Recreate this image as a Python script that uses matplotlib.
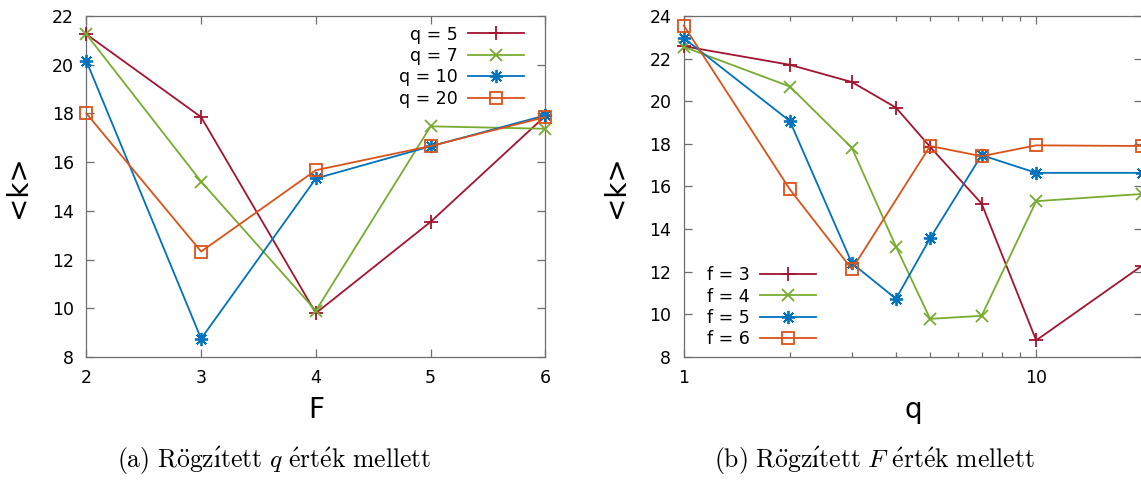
import numpy as np
import matplotlib
matplotlib.use("Agg")
import matplotlib.pyplot as plt
from matplotlib.ticker import FixedLocator, NullFormatter

plt.rcParams['font.family'] = ['DejaVu Sans']
plt.rcParams['mathtext.fontset'] = 'cm'

# ---- data: left panel, <k> vs F at fixed q ----
F_vals = [2, 3, 4, 5, 6]
k_q5 = [21.25, 17.85, 9.8, 13.55, 17.9]
k_q7 = [21.25, 15.2, 9.9, 17.47, 17.37]
k_q10 = [20.15, 8.75, 15.33, 16.65, 17.92]
k_q20 = [18.0, 12.33, 15.67, 16.66, 17.85]
left_labels = ["q = 5", "q = 7", "q = 10", "q = 20"]

# ---- data: right panel, <k> vs q at fixed F ----
q_vals = [1, 2, 3, 4, 5, 7, 10, 20]
k_f3 = [22.58, 21.71, 20.9, 19.7, 17.86, 15.2, 8.78, 12.29]
k_f4 = [22.55, 20.69, 17.81, 13.18, 9.79, 9.93, 15.31, 15.65]
k_f5 = [22.96, 19.07, 12.4, 10.73, 13.57, 17.47, 16.64, 16.64]
q_f6 = [1, 2, 3, 5, 7, 10, 20]
k_f6 = [23.55, 15.86, 12.12, 17.9, 17.42, 17.93, 17.9]
right_labels = ["f = 3", "f = 4", "f = 5", "f = 6"]

colors = ['#A2142F', '#77AC30', '#0072BD', '#D95319']
markers = ['+', 'x', (8, 2, 0), 's']
msizes = [10, 8, 9.5, 8.5]
AX_GREY = '#6e6e6e'


def style_axes(ax):
    for sp in ax.spines.values():
        sp.set_color(AX_GREY)
        sp.set_linewidth(0.9)
    ax.tick_params(which='both', direction='in', top=True, right=True,
                   colors=AX_GREY, labelcolor='black', labelsize=12.5)
    ax.tick_params(which='major', length=6, width=0.9, pad=9)
    ax.tick_params(which='minor', length=3.5, width=0.9)


def draw_series(ax, xs_list, ys_list, labels):
    for xs, ys, lab, c, m, ms in zip(xs_list, ys_list, labels, colors, markers, msizes):
        face = 'none' if m == 's' else c
        ax.plot(xs, ys, color=c, lw=1.3, marker=m, ms=ms, mew=1.3,
                mfc=face, mec=c, label=lab, clip_on=False, zorder=3)


def add_legend(ax, loc, anchor):
    # text first, sample after it; rows are right-aligned on the samples
    ax.legend(loc=loc, bbox_to_anchor=anchor, frameon=False,
              markerfirst=False, fontsize=12.5, handlelength=3.2,
              handletextpad=0.6, labelspacing=0.2, borderpad=0, borderaxespad=0)


fig = plt.figure(figsize=(11.41, 4.83), dpi=100)

# ---- left panel ----
ax1 = fig.add_axes([0.0757, 0.2609, 0.4023, 0.7060])
draw_series(ax1, [F_vals] * 4, [k_q5, k_q7, k_q10, k_q20], left_labels)
ax1.set_xlim(2, 6)
ax1.set_ylim(8, 22)
ax1.set_xticks(F_vals)
ax1.set_yticks(np.arange(8, 23, 2))
style_axes(ax1)
ax1.set_xlabel("F", fontsize=20, labelpad=6)
ax1.set_ylabel("<k>", fontsize=20, labelpad=14)
add_legend(ax1, 'upper right', (0.953, 0.972))

# ---- right panel (log q axis) ----
ax2 = fig.add_axes([0.5993, 0.2609, 0.4018, 0.7060])
draw_series(ax2, [q_vals, q_vals, q_vals, q_f6], [k_f3, k_f4, k_f5, k_f6], right_labels)
ax2.set_xscale('log')
ax2.set_xlim(1, 20)
ax2.set_ylim(8, 24)
ax2.xaxis.set_major_locator(FixedLocator([1, 10]))
ax2.set_xticklabels(["1", "10"])
ax2.xaxis.set_minor_locator(FixedLocator([2, 3, 4, 5, 6, 7, 8, 9, 20]))
ax2.xaxis.set_minor_formatter(NullFormatter())
ax2.set_yticks(np.arange(8, 25, 2))
style_axes(ax2)
ax2.set_xlabel("q", fontsize=20, labelpad=6)
ax2.set_ylabel("<k>", fontsize=20, labelpad=14)
add_legend(ax2, 'lower left', (0.05, 0.025))

# ---- sub-captions ----
fig.text(0.240, 0.045,
         r"$\mathrm{(a)\ R\ddot{o}gz\acute{ı}tett}\ q\ \mathrm{\acute{e}rt\acute{e}k\ mellett}$",
         ha='center', va='center', fontsize=18.5)
fig.text(0.766, 0.045,
         r"$\mathrm{(b)\ R\ddot{o}gz\acute{ı}tett}\ F\ \mathrm{\acute{e}rt\acute{e}k\ mellett}$",
         ha='center', va='center', fontsize=18.5)

fig.savefig("out.png", dpi=100)
